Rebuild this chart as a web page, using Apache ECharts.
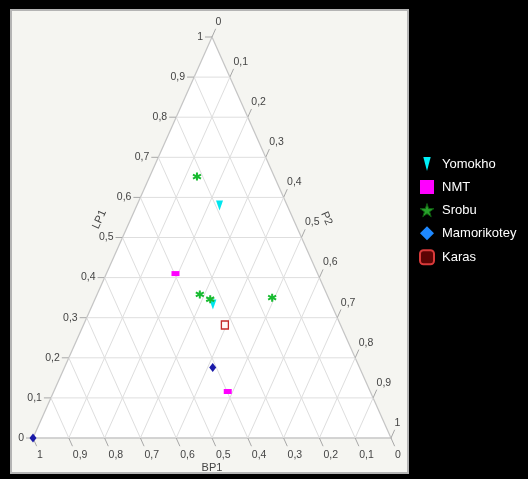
<!DOCTYPE html>
<html><head><meta charset="utf-8">
<script src="https://cdn.jsdelivr.net/npm/echarts@6/dist/echarts.min.js"></script>
<style>html,body{margin:0;padding:0;background:#000;}#c{width:528px;height:479px;}</style>
</head><body><div id="c"></div>
<script>
// ---- data (ternary components: LP1, P2, BP1) ----
const ticks = [0, 0.1, 0.2, 0.3, 0.4, 0.5, 0.6, 0.7, 0.8, 0.9, 1];
const tickLabels = ['0', '0,1', '0,2', '0,3', '0,4', '0,5', '0,6', '0,7', '0,8', '0,9', '1'];
const axisTitles = { left: 'LP1', right: 'P2', bottom: 'BP1' };
const seriesNames = ['Yomokho', 'NMT', 'Srobu', 'Mamorikotey', 'Karas'];

const yomokhoLP1 = [0.58, 0.333];
const yomokhoP2  = [0.231, 0.336];
const yomokhoBP1 = [0.189, 0.331];

const nmtLP1 = [0.41, 0.116];
const nmtP2  = [0.193, 0.486];
const nmtBP1 = [0.397, 0.398];

const srobuLP1 = [0.652, 0.358, 0.346, 0.35];
const srobuP2  = [0.132, 0.287, 0.322, 0.493];
const srobuBP1 = [0.216, 0.355, 0.332, 0.157];

const mamorikoteyLP1 = [0.176, 0];
const mamorikoteyP2  = [0.414, 0];
const mamorikoteyBP1 = [0.41, 1];

const karasLP1 = [0.282];
const karasP2  = [0.395];
const karasBP1 = [0.323];

// ---- helpers ----
function tern(L, P) { return [P + L / 2, L]; }
function pts(Ls, Ps) { return Ls.map((L, i) => tern(L, Ps[i])); }

const FONT = '"Liberation Sans Narrow","Liberation Sans",Arial,sans-serif';
const ASTERISK = 'path://M5,0 L5,10 M0.7,2.5 L9.3,7.5 M9.3,2.5 L0.7,7.5';
const STAR = 'path://M50,0 L61,35 L98,35 L68,57 L79,91 L50,70 L21,91 L32,57 L2,35 L39,35 Z';
const TRI_DOWN = 'path://M0,0 L10,0 L5,19 Z';

const chart = echarts.init(document.getElementById('c'), null, { renderer: 'canvas' });

function frameRender(params, api) {
  const c = (L, P) => api.coord(tern(L, P));
  const BL = c(0, 0), T = c(1, 0), BR = c(0, 1);
  return {
    type: 'polygon',
    shape: { points: [BL, T, BR] },
    style: { fill: '#ffffff', stroke: '#c6c6c6', lineWidth: 1.3 },
    z2: 0
  };
}

function gridRender(params, api) {
  const i = params.dataIndex;
  const v = ticks[i];
  const lab = tickLabels[i];
  const c = (L, P) => api.coord(tern(L, P));
  const kids = [];
  const gl = { stroke: '#dedede', lineWidth: 1 };
  const tl = { stroke: '#a8a8a8', lineWidth: 1 };
  const ln = (a, b, s) => ({ type: 'line', shape: { x1: a[0], y1: a[1], x2: b[0], y2: b[1] }, style: s });
  const tx = (t, x, y, al, va, rot, size) => ({
    type: 'text', x: x, y: y, rotation: rot || 0,
    style: { text: t, fill: '#444', font: (size || 10.5) + 'px ' + FONT, align: al, verticalAlign: va }
  });
  if (v > 0 && v < 1) {
    kids.push(ln(c(v, 0), c(v, 1 - v), gl));
    kids.push(ln(c(0, v), c(1 - v, v), gl));
    kids.push(ln(c(0, 1 - v), c(1 - v, 0), gl));
  }
  const BL = c(0, 0), T = c(1, 0), BR = c(0, 1);
  const nrm = (a, b) => { const dx = b[0] - a[0], dy = b[1] - a[1], d = Math.hypot(dx, dy); return [dx / d, dy / d]; };
  const uUp = nrm(BL, T), uDown = nrm(T, BR);
  let p = c(v, 0);
  kids.push(ln(p, [p[0] - 7, p[1]], tl));
  kids.push(tx(lab, p[0] - 9, p[1], 'right', 'middle'));
  p = c(1 - v, v);
  kids.push(ln(p, [p[0] + 9 * uUp[0], p[1] + 9 * uUp[1]], tl));
  kids.push(tx(lab, p[0] + 3.5, p[1] - 15, 'left', 'middle'));
  p = c(0, 1 - v);
  kids.push(ln(p, [p[0] + 9 * uDown[0], p[1] + 9 * uDown[1]], tl));
  kids.push(tx(lab, p[0] + 4, p[1] + 17, 'left', 'middle'));
  if (i === 0) {
    const angL = Math.atan2(-(T[1] - BL[1]), T[0] - BL[0]);
    const angR = Math.atan2(-(BR[1] - T[1]), BR[0] - T[0]);
    const pl = c(0.55, 0), pr = c(0.55, 0.45), pb = c(0, 0.5);
    kids.push(tx(axisTitles.left, pl[0] - 32, pl[1] + 2, 'center', 'middle', angL, 11));
    kids.push(tx(axisTitles.right, pr[0] + 34, pr[1] + 1, 'center', 'middle', angR, 11));
    kids.push(tx(axisTitles.bottom, pb[0], pb[1] + 30, 'center', 'middle', 0, 11));
  }
  return { type: 'group', children: kids };
}

chart.setOption({
  backgroundColor: '#000000',
  animation: false,
  graphic: [{
    type: 'rect', z: -10,
    shape: { x: 11, y: 10, width: 397, height: 463 },
    style: { fill: '#f5f5f1', stroke: '#b4b4b4', lineWidth: 2 }
  }],
  grid: { left: 33, right: 137, top: 37, bottom: 41 },
  xAxis: { type: 'value', min: 0, max: 1, show: false },
  yAxis: { type: 'value', min: 0, max: 1, show: false },
  legend: {
    orient: 'vertical', left: 414, top: 152,
    itemWidth: 14, itemHeight: 14, itemGap: 9,
    selectedMode: false,
    textStyle: { color: '#ffffff', fontSize: 13, fontFamily: FONT, padding: [0, 0, 0, 3] },
    data: [
      { name: seriesNames[0], icon: TRI_DOWN, itemStyle: { color: '#00f0f8', borderWidth: 0 } },
      { name: seriesNames[1], icon: 'rect', itemStyle: { color: '#ff00ff', borderWidth: 0, opacity: 1 } },
      { name: seriesNames[2], icon: STAR, itemStyle: { color: '#27a02a', borderColor: '#0f5a10', borderWidth: 1 } },
      { name: seriesNames[3], icon: 'diamond', itemStyle: { color: '#1e88ff', borderWidth: 0 } },
      { name: seriesNames[4], icon: 'roundRect', itemStyle: { color: '#5c0404', borderColor: '#d83a3a', borderWidth: 2 } }
    ]
  },
  series: [
    { type: 'custom', name: 'frame', coordinateSystem: 'cartesian2d', data: [[0, 0]], renderItem: frameRender, z: 1, silent: true, clip: false },
    { type: 'custom', name: 'grid', coordinateSystem: 'cartesian2d', data: ticks.map(t => [t, t]), renderItem: gridRender, z: 2, silent: true, clip: false },
    { type: 'scatter', name: seriesNames[0], data: pts(yomokhoLP1, yomokhoP2), symbol: 'triangle', symbolRotate: 180, symbolSize: [7, 10], itemStyle: { color: '#00e5ee', opacity: 1 }, z: 5 },
    { type: 'scatter', name: seriesNames[1], data: pts(nmtLP1, nmtP2), symbol: 'rect', symbolSize: [8, 5], itemStyle: { color: '#ff00ff', opacity: 1 }, z: 5 },
    { type: 'scatter', name: seriesNames[2], data: pts(srobuLP1, srobuP2), symbol: ASTERISK, symbolSize: 8, itemStyle: { color: '#22d83a', borderColor: '#18bb30', borderWidth: 2, opacity: 1 }, z: 6 },
    { type: 'scatter', name: seriesNames[3], data: pts(mamorikoteyLP1, mamorikoteyP2), symbol: 'diamond', symbolSize: [7, 9], itemStyle: { color: '#1a1aa8', opacity: 1 }, z: 5 },
    { type: 'scatter', name: seriesNames[4], data: pts(karasLP1, karasP2), symbol: 'rect', symbolSize: [7, 8], itemStyle: { color: '#fff6f6', borderColor: '#c42828', borderWidth: 1.4, opacity: 1 }, z: 5 }
  ]
});
</script>
</body></html>
